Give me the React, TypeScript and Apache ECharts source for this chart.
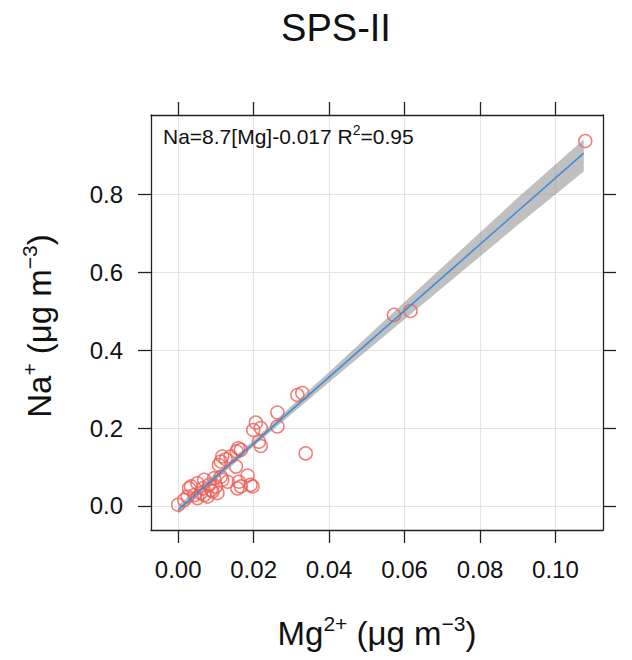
import { useEffect, useRef } from "react";
import * as echarts from "echarts";

// Mg2+ vs Na+ (ug m-3)
const mg = [
  0.0, 0.0016, 0.0025, 0.0029, 0.0034, 0.0043, 0.0051, 0.0051, 0.006, 0.0065,
  0.0069, 0.0069, 0.0078, 0.0082, 0.0087, 0.0091, 0.0095, 0.01, 0.0104, 0.0108,
  0.0113, 0.0113, 0.0117, 0.0117, 0.0126, 0.0131, 0.0139, 0.0153, 0.0155, 0.0157,
  0.0159, 0.0161, 0.0166, 0.0166, 0.0184, 0.0192, 0.0197, 0.0199, 0.0206, 0.0214,
  0.0219, 0.0219, 0.0263, 0.0263, 0.0316, 0.0329, 0.0338, 0.0572, 0.0616, 0.1079,
];
const na = [
  0.003, 0.015, 0.024, 0.045, 0.05, 0.028, 0.058, 0.02, 0.033, 0.045,
  0.067, 0.028, 0.024, 0.054, 0.041, 0.037, 0.071, 0.05, 0.033, 0.105,
  0.075, 0.114, 0.067, 0.127, 0.12, 0.062, 0.127, 0.101, 0.14, 0.045,
  0.148, 0.062, 0.05, 0.144, 0.078, 0.054, 0.05, 0.195, 0.214, 0.165,
  0.154, 0.2, 0.204, 0.24, 0.285, 0.29, 0.135, 0.491, 0.501, 0.938,
];

// fitted line ends and its grey band
const fitX = [0, 0.1075];
const fitY = [-0.01, 0.907];
const bandX = [0, 0.02, 0.04, 0.06, 0.08, 0.09, 0.1075];
const bandUpper = [0.001, 0.169, 0.344, 0.524, 0.703, 0.792, 0.942];
const bandLower = [-0.021, 0.153, 0.318, 0.48, 0.641, 0.722, 0.86];

const xTicks = [0, 0.02, 0.04, 0.06, 0.08, 0.1];
const yTicks = [0, 0.2, 0.4, 0.6, 0.8];

const FONT = "Liberation Sans, Arial, sans-serif";

const App = () => {
  const chartRef = useRef(null);

  useEffect(() => {
    const chart = echarts.init(chartRef.current, null, { renderer: "svg" });

    const xBase = {
      type: "value",
      min: -0.0072,
      max: 0.1126,
      splitNumber: 6,
      axisLine: { show: true, onZero: false, lineStyle: { color: "#222", width: 1.3 } },
      axisTick: { show: true, length: 13, customValues: xTicks, lineStyle: { color: "#222", width: 1.3 } },
    };
    const yBase = {
      type: "value",
      min: -0.062,
      max: 1.005,
      axisLine: { show: true, onZero: false, lineStyle: { color: "#222", width: 1.3 } },
      axisTick: { show: true, length: 13, customValues: yTicks, lineStyle: { color: "#222", width: 1.3 } },
    };

    const option: any = {
      animation: false,
      grid: { left: 151, top: 115, width: 452, height: 415 },
      xAxis: [
        {
          ...xBase,
          position: "bottom",
          axisLabel: {
            customValues: xTicks,
            formatter: (v) => v.toFixed(2),
            fontSize: 24,
            fontFamily: FONT,
            color: "#111",
            margin: 27,
          },
          splitLine: { show: true, lineStyle: { color: "#e4e4e4", width: 1.2 } },
        },
        {
          ...xBase,
          position: "top",
          axisLabel: { show: false },
          splitLine: { show: false },
        },
      ],
      yAxis: [
        {
          ...yBase,
          position: "left",
          axisLabel: {
            customValues: yTicks,
            formatter: (v) => v.toFixed(1),
            fontSize: 24,
            fontFamily: FONT,
            color: "#111",
            margin: 28,
          },
          splitLine: { show: true, lineStyle: { color: "#e4e4e4", width: 1.2 } },
        },
        {
          ...yBase,
          position: "right",
          axisLabel: { show: false },
          splitLine: { show: false },
        },
      ],
      series: [
        {
          type: "custom",
          xAxisIndex: 0,
          yAxisIndex: 0,
          z: 1,
          data: [[0, 0]],
          renderItem: (params, api) => {
            const top = bandX.map((x, i) => api.coord([x, bandUpper[i]]));
            const bottom = bandX.map((x, i) => api.coord([x, bandLower[i]])).reverse();
            return {
              type: "polygon",
              shape: { points: top.concat(bottom) },
              style: { fill: "rgba(150,150,150,0.6)" },
            };
          },
        },
        {
          type: "scatter",
          z: 2,
          symbol: "circle",
          symbolSize: 13,
          data: mg.map((x, i) => [x, na[i]]),
          itemStyle: {
            color: "rgba(0,0,0,0)",
            borderColor: "#EE5E56",
            borderWidth: 1.5,
          },
        },
        {
          type: "line",
          z: 3,
          symbol: "none",
          data: fitX.map((x, i) => [x, fitY[i]]),
          lineStyle: { color: "#3D8DDC", width: 1.6 },
        },
      ],
      graphic: [
        {
          type: "text",
          x: 336,
          y: 28,
          style: {
            text: "SPS-II",
            fontSize: 38,
            fontFamily: FONT,
            fill: "#111",
            textAlign: "center",
            textVerticalAlign: "middle",
          },
        },
        {
          type: "text",
          x: 163,
          y: 136,
          z: 10,
          style: {
            text: "{b|Na=8.7[Mg]-0.017 R}{s|2}{b|=0.95}",
            fill: "#111",
            textAlign: "left",
            textVerticalAlign: "middle",
            rich: {
              b: { fontSize: 21, fontFamily: FONT, fill: "#111", lineHeight: 26 },
              s: { fontSize: 14, fontFamily: FONT, fill: "#111", verticalAlign: "top", lineHeight: 14 },
            },
          },
        },
        {
          type: "text",
          x: 377,
          y: 633,
          style: {
            text: "{b|Mg}{s|2+}{b| (μg m}{s|−3}{b|)}",
            fill: "#111",
            textAlign: "center",
            textVerticalAlign: "middle",
            rich: {
              b: { fontSize: 33, fontFamily: FONT, fill: "#111", lineHeight: 40 },
              s: { fontSize: 21, fontFamily: FONT, fill: "#111", verticalAlign: "top", lineHeight: 21 },
            },
          },
        },
        {
          type: "text",
          x: 39,
          y: 326,
          rotation: Math.PI / 2,
          style: {
            text: "{b|Na}{s|+}{b| (μg m}{s|−3}{b|)}",
            fill: "#111",
            textAlign: "center",
            textVerticalAlign: "middle",
            rich: {
              b: { fontSize: 33, fontFamily: FONT, fill: "#111", lineHeight: 40 },
              s: { fontSize: 21, fontFamily: FONT, fill: "#111", verticalAlign: "top", lineHeight: 21 },
            },
          },
        },
      ],
    };

    chart.setOption(option);

    return () => {
      chart.dispose();
    };
  }, []);

  return (
    <div
      ref={chartRef}
      style={{ position: "fixed", left: 0, top: 0, width: "632px", height: "660px", background: "#fff" }}
    />
  );
};

export default App;
